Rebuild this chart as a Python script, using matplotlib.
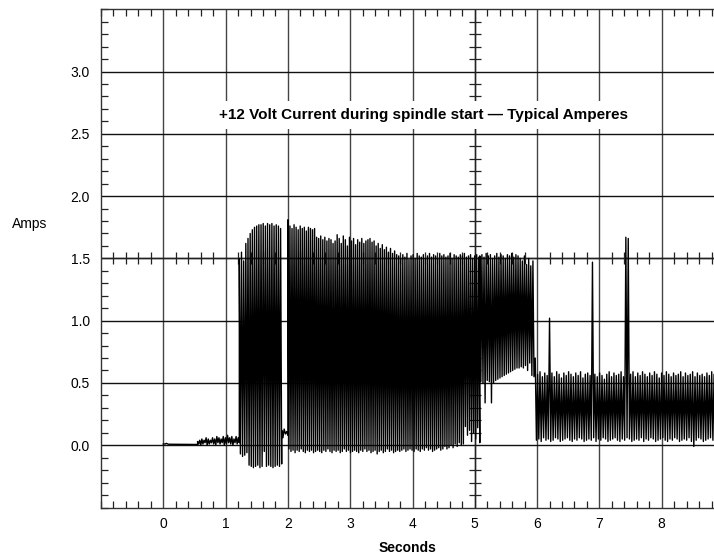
import numpy as np
import matplotlib.pyplot as plt
from matplotlib.ticker import MultipleLocator

plt.rcParams['font.family'] = ['Liberation Sans', 'DejaVu Sans']

# idle period before the spindle starts
idle_t = [0.0, 0.03, 0.05, 0.08, 0.55]
idle_v = [0.01, 0.01, 0.015, 0.008, 0.006]

# small ripple 0.55 .. 1.22 s
ripple_span = (0.55, 1.22)
ripple_hi = [0.03, 0.04, 0.05, 0.04, 0.06, 0.05, 0.04, 0.06, 0.05, 0.07,
             0.06, 0.05, 0.07, 0.06, 0.08, 0.06, 0.07, 0.05, 0.07, 0.06]
ripple_lo = [0.01, 0.00, 0.01, 0.02, 0.00, 0.01, 0.02, 0.01, 0.00, 0.02,
             0.01, 0.02, 0.00, 0.01, 0.02, 0.01, 0.00, 0.02, 0.01, 0.02]

# first burst 1.22 .. 1.90 s
burst_a_span = (1.22, 1.90)
burst_a_hi = [1.50, 1.55, 1.48, 1.62, 1.66, 1.70, 1.73, 1.75, 1.76, 1.77,
              1.77, 1.78, 1.76, 1.78, 1.77, 1.78, 1.76, 1.77, 1.76, 1.74]
burst_a_lo = [-0.07, -0.09, -0.08, -0.06, -0.16, -0.17, -0.18, -0.17, -0.16, -0.18,
              -0.17, -0.05, -0.17, -0.16, -0.17, -0.18, -0.17, -0.16, -0.17, -0.15]

# short pause 1.90 .. 2.00 s
gap_span = (1.90, 2.00)
gap_hi = [0.12, 0.13, 0.11]
gap_lo = [0.06, 0.09, 0.08]

# main burst 2.00 .. 5.08 s
burst_b_span = (2.00, 5.08)
burst_b_hi = [1.81, 1.76, 1.74, 1.77, 1.75, 1.73, 1.76, 1.74, 1.75, 1.72, 1.75, 1.74, 1.73, 1.74,
              1.67, 1.66, 1.68, 1.65, 1.67, 1.64, 1.66, 1.65, 1.62,
              1.64, 1.69, 1.66, 1.62, 1.68, 1.65, 1.60, 1.67, 1.64, 1.66, 1.61, 1.65, 1.63, 1.66,
              1.62, 1.64, 1.65,
              1.66, 1.63, 1.64, 1.60, 1.62, 1.58, 1.61, 1.57, 1.59, 1.55, 1.58, 1.54, 1.56, 1.53,
              1.52, 1.50, 1.53, 1.51, 1.54, 1.49, 1.52, 1.53, 1.50, 1.54, 1.52, 1.51, 1.53, 1.50,
              1.52, 1.54, 1.51, 1.53, 1.52, 1.50, 1.54, 1.52, 1.53, 1.51, 1.52, 1.54, 1.50, 1.53,
              1.52, 1.51, 1.53, 1.52, 1.54, 1.51, 1.52, 1.53, 1.50, 1.52, 1.53, 1.51]
burst_b_lo = [-0.03, -0.05, -0.04, -0.06, -0.04, -0.05, -0.03, -0.05, -0.06, -0.04, -0.05, -0.04, -0.06, -0.05,
              -0.04, -0.05, -0.06, -0.04, -0.05, -0.03, -0.05, -0.06, -0.04,
              -0.05, -0.04, -0.06, -0.05, -0.03, -0.05, -0.04, -0.06, -0.05, -0.04, -0.05, -0.06, -0.04, -0.05,
              -0.03, -0.05, -0.04,
              -0.06, -0.05, -0.04, -0.07, -0.05, -0.04, -0.06, -0.05, -0.03, -0.05, -0.04, -0.06, -0.05, -0.04,
              -0.05, -0.04, -0.03, -0.05, -0.04, -0.03, -0.04, -0.05, -0.03, -0.04, -0.05, -0.03, -0.04, -0.02,
              -0.04, -0.03, -0.05, -0.04, -0.03, -0.02, -0.04, -0.03, -0.01, -0.03, -0.02, 0.00, -0.02, 0.01,
              -0.01, 0.02, 0.00, 0.01, 0.15, 0.08, 0.12, 0.03, 0.10, 0.05, 0.14, 0.02]

# burst with raised floor 5.08 .. 5.95 s
burst_c_span = (5.08, 5.95)
burst_c_hi = [1.52, 1.53, 1.51, 1.54, 1.52, 1.53, 1.50, 1.52, 1.54, 1.51, 1.53, 1.52, 1.50,
              1.53, 1.52, 1.54, 1.51, 1.53, 1.52, 1.50, 1.48, 1.52, 1.45, 1.50, 1.44, 1.48]
burst_c_lo = [0.51, 0.50, 0.34, 0.52, 0.51, 0.34, 0.50, 0.52, 0.53, 0.54, 0.55, 0.56, 0.57,
              0.58, 0.59, 0.60, 0.61, 0.62, 0.62, 0.63, 0.62, 0.64, 0.60, 0.66, 0.56, 0.55]

# running current after 6 s
tail_span = (5.97, 8.86)
tail_hi = [0.70, 0.57, 0.59, 0.55, 0.58, 0.56, 1.02,
           0.58, 0.55, 0.59, 0.57, 0.54, 0.58, 0.56, 0.59, 0.57, 0.55, 0.58, 0.56, 0.59, 0.54, 0.57, 0.58, 0.56,
           1.47,
           0.57, 0.55, 0.58, 0.56, 0.53, 0.57, 0.59, 0.55, 0.58, 0.56, 0.57, 0.59, 0.55,
           1.67, 1.66,
           0.57, 0.59, 0.55, 0.58, 0.56, 0.59, 0.57, 0.55, 0.58, 0.56, 0.59, 0.57, 0.54, 0.58, 0.56, 0.59,
           0.57, 0.55, 0.58, 0.56, 0.57, 0.59, 0.55, 0.58, 0.56, 0.57, 0.59, 0.55, 0.58, 0.56, 0.57, 0.55,
           0.58, 0.56, 0.59, 0.57]
tail_lo = [0.04, 0.05, 0.03, 0.06, 0.04, 0.05, 0.03, 0.04, 0.06, 0.05, 0.03, 0.04, 0.05, 0.06, 0.04,
           0.03, 0.05, 0.04, 0.06, 0.05, 0.03, 0.04, 0.05, 0.04, 0.06, 0.03, 0.05, 0.04, 0.06, 0.05,
           0.03, 0.04, 0.05, 0.06, 0.04, 0.03, 0.05, 0.04, 0.06, 0.05, 0.03, 0.04, 0.05, 0.04, 0.06,
           0.03, 0.05, 0.04, 0.06, 0.05, 0.03, 0.04, 0.05, 0.06, 0.04, 0.03, 0.05, 0.04, 0.06, 0.05,
           0.03, 0.04, 0.05, 0.04, 0.06, 0.03, -0.01, 0.04, 0.06, 0.05, 0.03, 0.04, 0.05, 0.06, 0.04, 0.05]

x_labels = ['0', '1', '2', '3', '4', '5', '6', '7', '8']
y_labels = ['0.0', '0.5', '1.0', '1.5', '2.0', '2.5', '3.0']


def burst(span, hi, lo):
    v = np.column_stack([hi, lo]).ravel()
    t = np.linspace(span[0], span[1], len(v))
    return t, v


pieces = [(np.array(idle_t), np.array(idle_v)),
          burst(ripple_span, ripple_hi, ripple_lo),
          burst(burst_a_span, burst_a_hi, burst_a_lo),
          burst(gap_span, gap_hi, gap_lo),
          burst(burst_b_span, burst_b_hi, burst_b_lo),
          burst(burst_c_span, burst_c_hi, burst_c_lo),
          burst(tail_span, tail_hi, tail_lo)]
time = np.concatenate([p[0] for p in pieces])
amps = np.concatenate([p[1] for p in pieces])

fig = plt.figure(figsize=(7.14, 5.6), dpi=100)
ax = fig.add_axes([101 / 714, 52.5 / 560, 613 / 714, 498.2 / 560])

x_right = -1 + 613 / 62.3
ax.set_xlim(-1, x_right)
ax.set_ylim(-0.5, 3.5)

xt = [float(s) for s in x_labels]
yt = [float(s) for s in y_labels]
ax.set_xticks(xt)
ax.set_xticklabels(x_labels, fontsize=10)
ax.set_yticks(yt)
ax.set_yticklabels(y_labels, fontsize=10)
ax.xaxis.set_minor_locator(MultipleLocator(0.2))
ax.yaxis.set_minor_locator(MultipleLocator(0.1))
ax.tick_params(axis='x', which='major', length=0, pad=7)
ax.tick_params(axis='y', which='major', length=0, pad=8)
ax.tick_params(which='minor', direction='in', length=5, width=0.9, color='#222222',
               top=True, bottom=True, left=True, right=False)

ax.grid(True, which='major', axis='y', color='#111111', linewidth=1.0)
ax.grid(True, which='major', axis='x', color='#444444', linewidth=1.0)
for side in ['left', 'top', 'bottom']:
    ax.spines[side].set_color('#333333')
    ax.spines[side].set_linewidth(1.0)
ax.spines['right'].set_visible(False)

# inner crossing axes at 1.5 A and 5 s
ax.axhline(1.5, color='#222222', linewidth=1.0, zorder=2)
ax.axvline(5, color='#222222', linewidth=1.0, zorder=2)
mx = np.arange(-0.8, x_right, 0.2)
mx = mx[np.abs(mx - np.round(mx)) > 0.05]
ax.plot(mx, np.full(len(mx), 1.5), linestyle='none', marker='|', markersize=9,
        markeredgewidth=0.9, color='#222222', zorder=2)
my = np.arange(-0.4, 3.45, 0.1)
my = my[np.abs(my * 2 - np.round(my * 2)) > 0.05]
ax.plot(np.full(len(my), 5.0), my, linestyle='none', marker='_', markersize=9,
        markeredgewidth=0.9, color='#222222', zorder=2)

ax.plot(time, amps, color='black', linewidth=1.0, zorder=3)

ax.text(4.17, 2.65, '+12 Volt Current during spindle start \u2014 Typical Amperes',
        ha='center', va='center', fontsize=11, fontweight='bold', zorder=4,
        bbox=dict(facecolor='white', edgecolor='none', pad=5))

ax.set_xlabel('Seconds', fontsize=10, fontweight='bold', va='center')
ax.xaxis.set_label_coords(0.5, -40.5 / 498.2)
fig.text(12 / 714, 1 - 224 / 560, 'Amps', fontsize=10, ha='left', va='center')

plt.savefig('out.png', dpi=100)
